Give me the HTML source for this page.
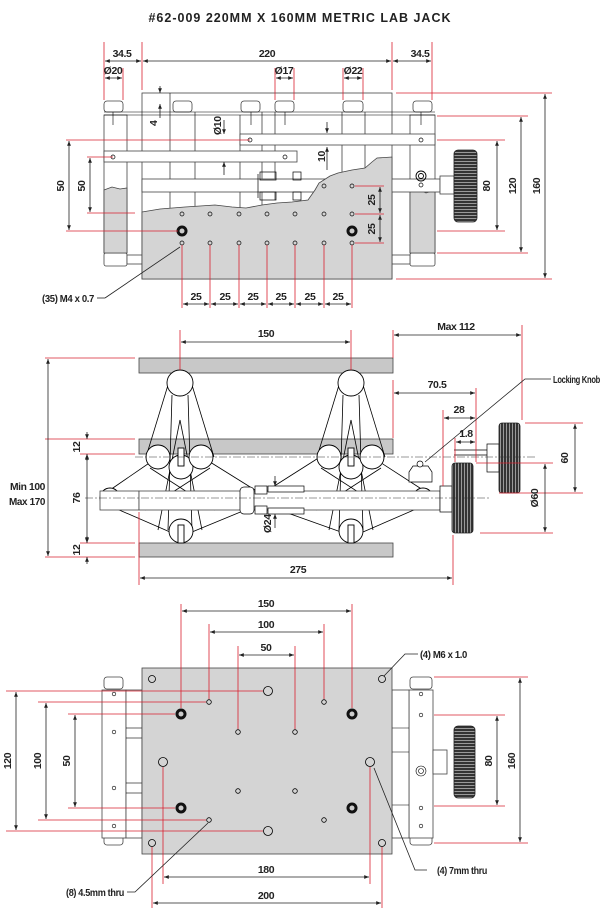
<!DOCTYPE html>
<html><head><meta charset="utf-8"><style>
html,body{margin:0;padding:0;background:#fff}
svg{display:block}
text{font-family:"Liberation Sans Narrow","Liberation Sans",sans-serif;font-weight:bold;font-size:10.5px;letter-spacing:-0.4px;fill:#222}
.r{stroke:#d9202f;stroke-width:0.8;fill:none}
.d{stroke:#222;stroke-width:0.8;fill:none}
.o{stroke:#444;stroke-width:0.8;fill:#fff}
.g{stroke:#444;stroke-width:0.8;fill:#d4d4d4}
.k{stroke:#000;stroke-width:0.9;fill:none}
.c{stroke:#333;stroke-width:0.6;fill:none;stroke-dasharray:8 2 2 2}
</style></head><body>
<svg width="601" height="910" viewBox="0 0 601 910" xmlns="http://www.w3.org/2000/svg">
<defs>
<marker id="a" viewBox="0 0 10 10" refX="10" refY="5" markerWidth="6" markerHeight="6" orient="auto-start-reverse"><path d="M0,1 L10,5 L0,9z" fill="#222"/></marker>
<pattern id="kh" width="4" height="3" patternUnits="userSpaceOnUse"><rect width="4" height="3" fill="#333"/><rect y="2" width="4" height="1" fill="#999"/></pattern>
<pattern id="kv" width="3" height="4" patternUnits="userSpaceOnUse"><rect width="3" height="4" fill="#333"/><rect x="2" width="1" height="4" fill="#999"/></pattern>
</defs>
<text x="300" y="22" text-anchor="middle" style="font-size:12.5px;letter-spacing:1px">#62-009 220MM X 160MM METRIC LAB JACK</text>

<!-- ========== TOP VIEW ========== -->
<rect class="o" x="104" y="115" width="23" height="138"/>
<rect class="o" x="410" y="115" width="25" height="138"/>
<rect class="o" x="104" y="253" width="23" height="13" rx="2"/>
<rect class="o" x="410" y="253" width="25" height="13" rx="2"/>
<rect class="o" x="127" y="255" width="15" height="9"/>
<rect class="o" x="392" y="255" width="18" height="9"/>
<path class="g" d="M104,190 L112,187 L120,189 L127,188 L127,253 L104,253z"/>
<path class="g" d="M410,192 L418,189 L426,193 L435,190 L435,253 L410,253z"/>
<rect class="o" x="142" y="93" width="250" height="186"/>
<g class="o">
<rect x="104" y="101" width="19" height="11" rx="3"/><rect x="173" y="101" width="19" height="11" rx="3"/>
<rect x="241" y="101" width="19" height="11" rx="3"/><rect x="275" y="101" width="19" height="11" rx="3"/>
<rect x="343" y="101" width="20" height="11" rx="3"/><rect x="413" y="101" width="19" height="11" rx="3"/>
</g>
<line class="k" x1="104" y1="112" x2="435" y2="112" style="stroke-width:0.6"/>
<line class="k" x1="104" y1="115" x2="435" y2="115" style="stroke-width:0.6"/>
<g class="k" style="stroke-width:0.6">
<line x1="170" y1="93" x2="170" y2="279"/><line x1="195" y1="112" x2="195" y2="279"/>
<line x1="240" y1="115" x2="240" y2="279"/><line x1="262" y1="112" x2="262" y2="279"/>
<line x1="275" y1="112" x2="275" y2="200"/><line x1="342" y1="112" x2="342" y2="279"/>
<line x1="365" y1="112" x2="365" y2="279"/>
<line x1="113" y1="112" x2="113" y2="125"/><line x1="251" y1="112" x2="251" y2="125"/>
<line x1="285" y1="112" x2="285" y2="125"/><line x1="421" y1="112" x2="421" y2="125"/>
</g>
<rect class="o" x="240" y="134" width="195" height="11"/>
<rect class="o" x="104" y="151" width="193" height="11"/>
<rect class="o" x="142" y="179" width="298" height="13"/>
<rect class="o" x="440" y="176" width="14" height="18"/>
<circle class="k" cx="421" cy="176" r="5"/><circle class="k" cx="421" cy="176" r="2.5"/>
<rect x="454" y="150" width="23" height="72" rx="4" fill="url(#kh)" stroke="#222" stroke-width="0.8"/>
<path class="g" d="M142,212 L160,209 L185,207 L215,205 L232,207 L246,208 L262,205 L277,203 L292,202 L308,200 L315,190 L319,183 L330,176 L338,173 L352,170 L365,168 L372,162 L377,158 L392,157 L392,279 L142,279z"/>
<g class="k" style="stroke-width:0.7"><rect x="260" y="172" width="16" height="8"/><rect x="260" y="192" width="16" height="8"/><rect x="293" y="172" width="8" height="8"/><rect x="293" y="192" width="8" height="8"/><line x1="258" y1="174" x2="258" y2="198"/></g>
<g class="k" style="stroke-width:0.7">
<circle cx="250" cy="140" r="2"/><circle cx="421" cy="140" r="2"/><circle cx="113" cy="157" r="2"/><circle cx="285" cy="157" r="2"/><circle cx="421" cy="185" r="2"/>
<circle cx="324" cy="186" r="2"/><circle cx="352" cy="186" r="2"/>
<circle cx="182" cy="214" r="2"/><circle cx="210" cy="214" r="2"/><circle cx="239" cy="214" r="2"/><circle cx="267" cy="214" r="2"/><circle cx="295" cy="214" r="2"/><circle cx="324" cy="214" r="2"/><circle cx="352" cy="214" r="2"/>
<circle cx="182" cy="243" r="2"/><circle cx="210" cy="243" r="2"/><circle cx="239" cy="243" r="2"/><circle cx="267" cy="243" r="2"/><circle cx="295" cy="243" r="2"/><circle cx="324" cy="243" r="2"/><circle cx="352" cy="243" r="2"/>
</g>
<circle cx="182" cy="231" r="5.5" fill="#111"/><circle cx="182" cy="231" r="2.5" fill="#ccc"/>
<circle cx="352" cy="231" r="5.5" fill="#111"/><circle cx="352" cy="231" r="2.5" fill="#ccc"/>
<g class="r">
<line x1="104" y1="42" x2="104" y2="100"/><line x1="123" y1="68" x2="123" y2="100"/><line x1="142" y1="42" x2="142" y2="90"/>
<line x1="392" y1="42" x2="392" y2="90"/><line x1="432" y1="42" x2="432" y2="100"/>
<line x1="275" y1="68" x2="275" y2="100"/><line x1="294" y1="68" x2="294" y2="100"/>
<line x1="343" y1="68" x2="343" y2="100"/><line x1="363" y1="68" x2="363" y2="100"/>
<line x1="396" y1="93" x2="552" y2="93"/><line x1="437" y1="116" x2="528" y2="116"/><line x1="437" y1="140" x2="505" y2="140"/>
<line x1="437" y1="231" x2="505" y2="231"/><line x1="437" y1="253" x2="528" y2="253"/><line x1="396" y1="279" x2="552" y2="279"/>
<line x1="66" y1="140" x2="250" y2="140"/><line x1="66" y1="231" x2="178" y2="231"/>
<line x1="87" y1="157" x2="113" y2="157"/><line x1="87" y1="213" x2="135" y2="213"/>
<line x1="355" y1="186" x2="384" y2="186"/><line x1="355" y1="214" x2="384" y2="214"/><line x1="355" y1="243" x2="384" y2="243"/>
<line x1="182" y1="245" x2="182" y2="308"/><line x1="210" y1="245" x2="210" y2="308"/><line x1="239" y1="245" x2="239" y2="308"/><line x1="267" y1="245" x2="267" y2="308"/><line x1="295" y1="245" x2="295" y2="308"/><line x1="324" y1="245" x2="324" y2="308"/><line x1="352" y1="245" x2="352" y2="308"/>
</g>
<g class="d" marker-start="url(#a)" marker-end="url(#a)">
<line x1="105" y1="61" x2="141" y2="61"/><line x1="143" y1="61" x2="391" y2="61"/><line x1="393" y1="61" x2="431" y2="61"/>
<line x1="105" y1="78" x2="122" y2="78"/><line x1="276" y1="78" x2="293" y2="78"/><line x1="344" y1="78" x2="362" y2="78"/>
<line x1="545" y1="94" x2="545" y2="278"/><line x1="521" y1="117" x2="521" y2="252"/><line x1="497" y1="141" x2="497" y2="230"/>
<line x1="69" y1="141" x2="69" y2="230"/><line x1="90" y1="158" x2="90" y2="212"/>
<line x1="380" y1="187" x2="380" y2="213"/><line x1="380" y1="215" x2="380" y2="242"/>
<line x1="183" y1="304" x2="209" y2="304"/><line x1="211" y1="304" x2="238" y2="304"/><line x1="240" y1="304" x2="266" y2="304"/><line x1="268" y1="304" x2="294" y2="304"/><line x1="296" y1="304" x2="323" y2="304"/><line x1="325" y1="304" x2="351" y2="304"/>
</g>
<g class="d" marker-end="url(#a)">
<line x1="160" y1="86" x2="160" y2="93"/><line x1="160" y1="118" x2="160" y2="104"/>
<line x1="224" y1="120" x2="224" y2="134"/><line x1="224" y1="175" x2="224" y2="162"/>
<line x1="327" y1="122" x2="327" y2="133"/><line x1="327" y1="170" x2="327" y2="147"/>
</g>
<line class="d" x1="97" y1="298" x2="105" y2="298"/><line class="d" x1="105" y1="298" x2="180" y2="247"/>
<g>
<text x="122" y="57" text-anchor="middle">34.5</text><text x="267" y="57" text-anchor="middle">220</text><text x="420" y="57" text-anchor="middle">34.5</text>
<text x="113" y="74" text-anchor="middle">Ø20</text><text x="284" y="74" text-anchor="middle">Ø17</text><text x="353" y="74" text-anchor="middle">Ø22</text>
<text x="196" y="300" text-anchor="middle">25</text><text x="225" y="300" text-anchor="middle">25</text><text x="253" y="300" text-anchor="middle">25</text><text x="281" y="300" text-anchor="middle">25</text><text x="310" y="300" text-anchor="middle">25</text><text x="338" y="300" text-anchor="middle">25</text>
<text x="42" y="302" textLength="52" lengthAdjust="spacingAndGlyphs">(35) M4 x 0.7</text>
<text transform="translate(157,126) rotate(-90)">4</text>
<text transform="translate(221,135) rotate(-90)">Ø10</text>
<text transform="translate(325,162) rotate(-90)">10</text>
<text transform="translate(64,186) rotate(-90)" text-anchor="middle">50</text>
<text transform="translate(85,186) rotate(-90)" text-anchor="middle">50</text>
<text transform="translate(375,200) rotate(-90)" text-anchor="middle">25</text>
<text transform="translate(375,229) rotate(-90)" text-anchor="middle">25</text>
<text transform="translate(490,186) rotate(-90)" text-anchor="middle">80</text>
<text transform="translate(516,186) rotate(-90)" text-anchor="middle">120</text>
<text transform="translate(540,186) rotate(-90)" text-anchor="middle">160</text>
</g>

<!-- ========== SIDE VIEW ========== -->
<rect class="g" x="139" y="358" width="254" height="15" style="fill:#c8c8c8"/>
<rect class="g" x="139" y="439" width="254" height="15" style="fill:#c8c8c8"/>
<rect class="g" x="139" y="543" width="254" height="14" style="fill:#c8c8c8"/>
<g class="k" style="stroke-width:0.8">
<line x1="168" y1="385" x2="146" y2="457"/><line x1="192" y1="385" x2="214" y2="457"/>
<line x1="172" y1="395" x2="168" y2="530"/><line x1="188" y1="395" x2="192" y2="530"/>
<line x1="180" y1="420" x2="158" y2="530"/><line x1="180" y1="420" x2="202" y2="530"/>
<line x1="158" y1="457" x2="110" y2="490"/><line x1="202" y1="457" x2="255" y2="490"/>
<line x1="110" y1="506" x2="170" y2="532"/><line x1="255" y1="506" x2="192" y2="532"/>
<line x1="150" y1="468" x2="215" y2="510"/><line x1="210" y1="468" x2="145" y2="510"/>
<line x1="339" y1="385" x2="317" y2="457"/><line x1="363" y1="385" x2="385" y2="457"/>
<line x1="343" y1="395" x2="339" y2="530"/><line x1="359" y1="395" x2="363" y2="530"/>
<line x1="351" y1="420" x2="329" y2="530"/><line x1="351" y1="420" x2="373" y2="530"/>
<line x1="320" y1="457" x2="268" y2="490"/><line x1="372" y1="457" x2="423" y2="490"/>
<line x1="268" y1="506" x2="341" y2="532"/><line x1="423" y1="506" x2="363" y2="532"/>
<line x1="321" y1="468" x2="386" y2="510"/><line x1="381" y1="468" x2="316" y2="510"/>
</g>
<g class="k" style="fill:#fff">
<circle cx="180" cy="383" r="13"/><circle cx="351" cy="383" r="13"/>
<circle cx="181" cy="467" r="12"/><circle cx="158" cy="457" r="12"/><circle cx="201" cy="457" r="12"/>
<circle cx="351" cy="467" r="12"/><circle cx="329" cy="457" r="12"/><circle cx="372" cy="457" r="12"/>
<circle cx="181" cy="531" r="12"/><circle cx="351" cy="531" r="12"/>
<circle cx="110" cy="498" r="10"/><circle cx="423" cy="498" r="10"/>
<rect x="178" y="448" width="6" height="18"/><rect x="348" y="448" width="6" height="18"/>
<rect x="178" y="525" width="6" height="18"/><rect x="348" y="525" width="6" height="18"/>
</g>
<rect class="o" x="100" y="491" width="39" height="19"/>
<rect class="o" x="139" y="491" width="301" height="19"/>
<g class="k" style="fill:#fff;stroke-width:0.7">
<rect x="240" y="487" width="14" height="27" rx="4"/><rect x="255" y="486" width="12" height="8"/><rect x="255" y="506" width="12" height="8"/><rect x="268" y="486" width="36" height="6"/><rect x="268" y="508" width="36" height="6"/>
<rect x="440" y="486" width="12" height="26"/>
<path d="M409,472 L413,466 L428,466 L432,472 L432,482 L409,482z"/><circle cx="420" cy="464" r="3"/>
<rect x="487" y="444" width="12" height="28"/>
<line x1="454" y1="450" x2="487" y2="450"/><line x1="454" y1="455" x2="487" y2="455"/>
</g>
<rect x="452" y="463" width="21" height="70" rx="3" fill="url(#kv)" stroke="#222" stroke-width="0.8"/>
<rect x="499" y="423" width="21" height="70" rx="3" fill="url(#kv)" stroke="#222" stroke-width="0.8"/>
<line class="c" x1="135" y1="457" x2="535" y2="457"/>
<line class="c" x1="85" y1="498" x2="490" y2="498"/>
<g class="r">
<line x1="180" y1="330" x2="180" y2="370"/><line x1="351" y1="330" x2="351" y2="370"/>
<line x1="393" y1="330" x2="393" y2="358"/><line x1="393" y1="380" x2="393" y2="438"/>
<line x1="522" y1="325" x2="522" y2="420"/><line x1="476" y1="388" x2="476" y2="462"/><line x1="443" y1="410" x2="443" y2="486"/><line x1="455" y1="438" x2="455" y2="462"/>
<line x1="525" y1="423" x2="583" y2="423"/><line x1="499" y1="493" x2="583" y2="493"/>
<line x1="476" y1="463" x2="553" y2="463"/><line x1="480" y1="533" x2="553" y2="533"/>
<line x1="45" y1="358" x2="135" y2="358"/><line x1="45" y1="439" x2="135" y2="439"/><line x1="80" y1="454" x2="135" y2="454"/><line x1="80" y1="543" x2="135" y2="543"/><line x1="45" y1="557" x2="135" y2="557"/>
<line x1="139" y1="512" x2="139" y2="585"/><line x1="453" y1="535" x2="453" y2="585"/>
</g>
<g class="d" marker-start="url(#a)" marker-end="url(#a)">
<line x1="181" y1="342" x2="350" y2="342"/><line x1="394" y1="335" x2="521" y2="335"/><line x1="394" y1="393" x2="475" y2="393"/>
<line x1="444" y1="418" x2="475" y2="418"/><line x1="456" y1="442" x2="475" y2="442"/>
<line x1="575" y1="424" x2="575" y2="492"/><line x1="545" y1="464" x2="545" y2="532"/>
<line x1="48" y1="359" x2="48" y2="556"/><line x1="87" y1="455" x2="87" y2="542"/>
<line x1="140" y1="578" x2="452" y2="578"/>
</g>
<g class="d" marker-end="url(#a)">
<line x1="87" y1="432" x2="87" y2="439"/><line x1="87" y1="461" x2="87" y2="454"/>
<line x1="87" y1="536" x2="87" y2="543"/><line x1="87" y1="564" x2="87" y2="557"/>
<line x1="275" y1="476" x2="275" y2="486"/><line x1="275" y1="528" x2="275" y2="514"/>
</g>
<polyline class="d" points="551,379 525,379 425,462"/>
<g>
<text x="266" y="337" text-anchor="middle">150</text><text x="456" y="330" text-anchor="middle">Max 112</text>
<text x="437" y="388" text-anchor="middle">70.5</text><text x="459" y="413" text-anchor="middle">28</text><text x="466" y="437" text-anchor="middle">1.8</text>
<text x="553" y="383" textLength="47" lengthAdjust="spacingAndGlyphs">Locking Knob</text>
<text x="298" y="573" text-anchor="middle">275</text>
<text x="10" y="490" textLength="35" lengthAdjust="spacingAndGlyphs">Min 100</text><text x="9" y="505" textLength="36" lengthAdjust="spacingAndGlyphs">Max 170</text>
<text transform="translate(80,447) rotate(-90)" text-anchor="middle">12</text>
<text transform="translate(80,550) rotate(-90)" text-anchor="middle">12</text>
<text transform="translate(80,498) rotate(-90)" text-anchor="middle">76</text>
<text transform="translate(568,458) rotate(-90)" text-anchor="middle">60</text>
<text transform="translate(538,498) rotate(-90)" text-anchor="middle">Ø60</text>
<text transform="translate(271,533) rotate(-90)">Ø24</text>
</g>

<!-- ========== BOTTOM VIEW ========== -->
<rect class="o" x="104" y="677" width="19" height="12" rx="3"/><rect class="o" x="104" y="833" width="19" height="12" rx="3"/>
<rect class="o" x="410" y="677" width="22" height="12" rx="3"/><rect class="o" x="410" y="833" width="22" height="12" rx="3"/>
<rect class="o" x="102" y="690" width="24" height="148"/><rect class="o" x="126" y="690" width="16" height="148"/>
<rect class="o" x="409" y="690" width="24" height="148"/><rect class="o" x="392" y="690" width="17" height="148"/>
<g class="k" style="stroke-width:0.6">
<line x1="126" y1="728" x2="142" y2="728"/><line x1="126" y1="738" x2="142" y2="738"/><line x1="126" y1="783" x2="142" y2="783"/><line x1="126" y1="793" x2="142" y2="793"/>
<line x1="392" y1="728" x2="409" y2="728"/><line x1="392" y1="752" x2="409" y2="752"/><line x1="392" y1="805" x2="409" y2="805"/>
<circle cx="114" cy="694" r="1.8"/><circle cx="114" cy="732" r="1.8"/><circle cx="114" cy="788" r="1.8"/><circle cx="114" cy="826" r="1.8"/>
<circle cx="421" cy="694" r="1.8"/><circle cx="421" cy="715" r="1.8"/><circle cx="421" cy="808" r="1.8"/><circle cx="421" cy="826" r="1.8"/>
<circle cx="421" cy="771" r="5"/><circle cx="421" cy="771" r="2.5"/>
</g>
<rect class="o" x="433" y="750" width="14" height="24"/>
<rect x="454" y="726" width="21" height="72" rx="4" fill="url(#kh)" stroke="#222" stroke-width="0.8"/>
<rect class="g" x="142" y="668" width="250" height="186"/>
<g class="k" style="stroke-width:0.8">
<circle cx="152" cy="679" r="3.5"/><circle cx="382" cy="679" r="3.5"/><circle cx="152" cy="843" r="3.5"/><circle cx="382" cy="843" r="3.5"/>
<circle cx="268" cy="691" r="4.5"/><circle cx="268" cy="831" r="4.5"/><circle cx="163" cy="762" r="4.5"/><circle cx="370" cy="762" r="4.5"/>
<circle cx="209" cy="702" r="2.3"/><circle cx="324" cy="702" r="2.3"/><circle cx="209" cy="820" r="2.3"/><circle cx="324" cy="820" r="2.3"/>
<circle cx="238" cy="732" r="2.3"/><circle cx="295" cy="732" r="2.3"/><circle cx="238" cy="791" r="2.3"/><circle cx="295" cy="791" r="2.3"/>
</g>
<g>
<circle cx="181" cy="714" r="5.5" fill="#111"/><circle cx="181" cy="714" r="2.5" fill="#ccc"/>
<circle cx="352" cy="714" r="5.5" fill="#111"/><circle cx="352" cy="714" r="2.5" fill="#ccc"/>
<circle cx="181" cy="808" r="5.5" fill="#111"/><circle cx="181" cy="808" r="2.5" fill="#ccc"/>
<circle cx="352" cy="808" r="5.5" fill="#111"/><circle cx="352" cy="808" r="2.5" fill="#ccc"/>
</g>
<g class="r">
<line x1="181" y1="604" x2="181" y2="708"/><line x1="352" y1="604" x2="352" y2="708"/>
<line x1="209" y1="624" x2="209" y2="699"/><line x1="324" y1="624" x2="324" y2="699"/>
<line x1="238" y1="646" x2="238" y2="729"/><line x1="295" y1="646" x2="295" y2="729"/>
<line x1="6" y1="691" x2="263" y2="691"/><line x1="6" y1="831" x2="263" y2="831"/>
<line x1="38" y1="702" x2="206" y2="702"/><line x1="38" y1="820" x2="206" y2="820"/>
<line x1="68" y1="714" x2="175" y2="714"/><line x1="68" y1="808" x2="175" y2="808"/>
<line x1="163" y1="767" x2="163" y2="884"/><line x1="370" y1="767" x2="370" y2="884"/>
<line x1="152" y1="847" x2="152" y2="908"/><line x1="382" y1="847" x2="382" y2="908"/>
<line x1="434" y1="677" x2="528" y2="677"/><line x1="434" y1="843" x2="528" y2="843"/>
<line x1="434" y1="715" x2="505" y2="715"/><line x1="434" y1="806" x2="505" y2="806"/>
</g>
<g class="d" marker-start="url(#a)" marker-end="url(#a)">
<line x1="182" y1="611" x2="351" y2="611"/><line x1="210" y1="632" x2="323" y2="632"/><line x1="239" y1="655" x2="294" y2="655"/>
<line x1="16" y1="692" x2="16" y2="830"/><line x1="46" y1="703" x2="46" y2="819"/><line x1="75" y1="715" x2="75" y2="807"/>
<line x1="520" y1="678" x2="520" y2="842"/><line x1="497" y1="716" x2="497" y2="805"/>
<line x1="164" y1="877" x2="369" y2="877"/><line x1="153" y1="903" x2="381" y2="903"/>
</g>
<polyline class="d" points="418,654 405,654 384,676"/>
<polyline class="d" points="427,870 415,870 374,768"/>
<polyline class="d" points="127,892 135,892 208,823"/>
<g>
<text x="266" y="607" text-anchor="middle">150</text><text x="266" y="628" text-anchor="middle">100</text><text x="266" y="651" text-anchor="middle">50</text>
<text x="420" y="658" textLength="47" lengthAdjust="spacingAndGlyphs">(4) M6 x 1.0</text><text x="437" y="874" textLength="50" lengthAdjust="spacingAndGlyphs">(4) 7mm thru</text><text x="66" y="896" textLength="58" lengthAdjust="spacingAndGlyphs">(8) 4.5mm thru</text>
<text x="266" y="873" text-anchor="middle">180</text><text x="266" y="899" text-anchor="middle">200</text>
<text transform="translate(11,761) rotate(-90)" text-anchor="middle">120</text>
<text transform="translate(41,761) rotate(-90)" text-anchor="middle">100</text>
<text transform="translate(70,761) rotate(-90)" text-anchor="middle">50</text>
<text transform="translate(492,761) rotate(-90)" text-anchor="middle">80</text>
<text transform="translate(515,761) rotate(-90)" text-anchor="middle">160</text>
</g>
</svg>
</body></html>
